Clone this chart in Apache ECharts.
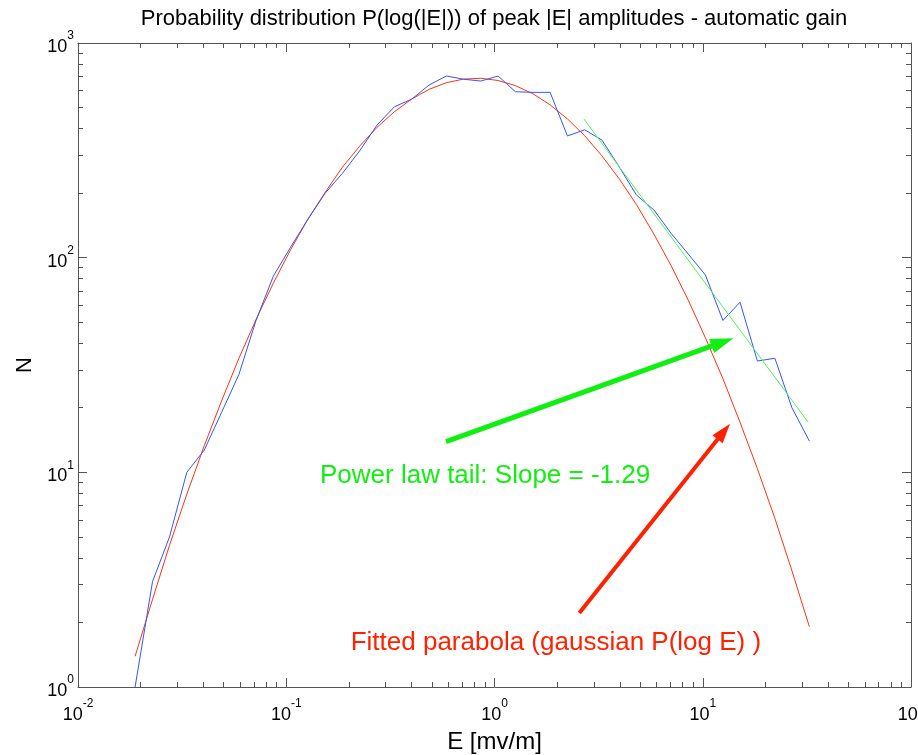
<!DOCTYPE html>
<html><head><meta charset="utf-8">
<script src="https://cdn.jsdelivr.net/npm/echarts@6/dist/echarts.min.js"></script>
<style>html,body{margin:0;padding:0;background:#fff}#c{width:918px;height:755px}</style>
</head><body><div id="c"></div>
<script>
// Bin centres E [mV/m] (log-spaced histogram bins)
const E = [0.0188, 0.0228, 0.0275, 0.0333, 0.0404, 0.0489, 0.0592, 0.0716, 0.0867, 0.105,
           0.127, 0.154, 0.186, 0.226, 0.273, 0.331, 0.400, 0.485, 0.587, 0.710,
           0.860, 1.04, 1.26, 1.53, 1.85, 2.24, 2.71, 3.28, 3.97, 4.80,
           5.82, 7.04, 8.52, 10.3, 12.5, 15.1, 18.3, 22.2, 26.8, 32.5];
// Observed counts N (blue)
const counts = [1.0, 3.1, 5.0, 10.0, 12.7, 19.0, 28.5, 51, 82, 112,
                151, 200, 247, 316, 415, 505, 547, 637, 702, 678,
                665, 702, 593, 589, 589, 369, 394, 353, 265, 196,
                167, 130, 104, 83, 51, 62, 33, 34, 20, 14];
// Fitted parabola (red) at the same E
const parabolaFit = [1.39, 2.56, 4.57, 7.91, 13.3, 21.5, 33.9, 51.5, 76.1, 109,
                     151, 202, 264, 332, 405, 479, 548, 608, 653, 679,
                     685, 669, 633, 580, 515, 443, 370, 298, 233, 177,
                     129, 92.0, 63.4, 42.3, 27.3, 17.1, 10.4, 6.10, 3.48, 1.91];
// Power-law tail (green)
const powerLawE = [2.69, 32.1];
const powerLawN = [442, 17.1];
// Axis ticks
const xMajorTicks = [0.01, 0.1, 1, 10, 100];
const yMajorTicks = [1, 10, 100, 1000];
const xDecades = [-2, -1, 0, 1];
const yDecades = [0, 1, 2];
// Annotations (data coordinates)
const greenArrow = [[0.585, 13.9], [12.44, 40.4]];
const redArrow = [[2.554, 2.21], [12.62, 15.5]];
const greenLabelAt = [0.1452, 9.62];
const redLabelAt = [0.2039, 1.614];
const greenLabel = 'Power law tail: Slope = -1.29';
const redLabel = 'Fitted parabola (gaussian P(log E) )';
const titleText = 'Probability distribution P(log(|E|)) of peak |E| amplitudes - automatic gain';

const FONT = '"Liberation Sans", Arial, Helvetica, sans-serif';
const AXC = '#555555';

function minors(decades) {
  const out = [];
  decades.forEach(d => { for (let k = 2; k <= 9; k++) out.push(+(k * Math.pow(10, d)).toPrecision(3)); });
  return out;
}
const xMinor = minors(xDecades);
const yMinor = minors(yDecades);

const labelFmt = v => '{b|10}{s|' + Math.round(Math.log10(v)) + '}';
const rich = {
  b: {fontSize: 18, color: '#000', fontFamily: FONT, padding: [8, 0, 0, 0]},
  s: {fontSize: 12, color: '#000', fontFamily: FONT, verticalAlign: 'top'}
};

function xAx(pos, ticks, len, opts) {
  return Object.assign({
    type: 'log', logBase: 10, min: 0.01, max: 100, position: pos, offset: 0,
    axisLine: {show: false}, splitLine: {show: false}, axisLabel: {show: false},
    axisTick: {show: true, inside: true, length: len, customValues: ticks, lineStyle: {color: AXC, width: 1}}
  }, opts || {});
}
function yAx(pos, ticks, len, opts) {
  return Object.assign({
    type: 'log', logBase: 10, min: 1, max: 1000, position: pos, offset: 0,
    axisLine: {show: false}, splitLine: {show: false}, axisLabel: {show: false},
    axisTick: {show: true, inside: true, length: len, customValues: ticks, lineStyle: {color: AXC, width: 1}}
  }, opts || {});
}

const chart = echarts.init(document.getElementById('c'), null, {renderer: 'canvas'});
chart.setOption({
  animation: false,
  backgroundColor: '#fff',
  textStyle: {fontFamily: FONT},
  title: {
    text: titleText, left: 494, top: 8, padding: 0, textAlign: 'center',
    textStyle: {fontSize: 22, fontWeight: 'normal', color: '#000', fontFamily: FONT}
  },
  grid: {left: 78, top: 43, width: 833, height: 644, containLabel: false, outerBoundsMode: 'none'},
  xAxis: [
    xAx('bottom', xMajorTicks, 9, {
      axisLine: {show: true, lineStyle: {color: AXC, width: 1}},
      axisLabel: {show: true, customValues: xMajorTicks, formatter: labelFmt, rich: rich, margin: 11},
      name: 'E [mv/m]', nameLocation: 'middle', nameGap: 43,
      nameTextStyle: {fontSize: 24, color: '#000', fontFamily: FONT}
    }),
    xAx('bottom', xMinor, 5),
    xAx('top', xMajorTicks, 9, {axisLine: {show: true, lineStyle: {color: AXC, width: 1}}}),
    xAx('top', xMinor, 5)
  ],
  yAxis: [
    yAx('left', yMajorTicks, 9, {
      axisLine: {show: true, lineStyle: {color: AXC, width: 1}},
      axisLabel: {show: true, customValues: yMajorTicks, formatter: labelFmt, rich: rich, margin: 4},
      name: 'N', nameLocation: 'middle', nameGap: 36,
      nameTextStyle: {fontSize: 22, color: '#000', fontFamily: FONT}
    }),
    yAx('left', yMinor, 5),
    yAx('right', yMajorTicks, 9, {axisLine: {show: true, lineStyle: {color: AXC, width: 1}}}),
    yAx('right', yMinor, 5)
  ],
  series: [
    {
      type: 'line', name: 'fit', xAxisIndex: 0, yAxisIndex: 0,
      data: E.map((e, i) => [e, parabolaFit[i]]),
      symbol: 'none', lineStyle: {color: '#ff3311', width: 1}, itemStyle: {color: '#ff3311'}, z: 2,
      markLine: {
        silent: true, animation: false, symbol: ['none', 'triangle'],
        label: {show: false}, emphasis: {disabled: true},
        lineStyle: {color: '#ff2200', width: 4, type: 'solid'},
        data: [[{coord: redArrow[0], symbol: 'none'}, {coord: redArrow[1], symbol: 'triangle', symbolSize: [13, 20]}]]
      },
      markPoint: {
        silent: true, animation: false, symbol: 'circle', symbolSize: 0,
        itemStyle: {color: 'rgba(0,0,0,0)'},
        label: {show: true, position: 'right', distance: 0, formatter: redLabel, color: '#ff2200', fontSize: 26, fontFamily: FONT},
        data: [{coord: redLabelAt}]
      }
    },
    {
      type: 'line', name: 'counts', xAxisIndex: 0, yAxisIndex: 0,
      data: E.map((e, i) => [e, counts[i]]),
      symbol: 'none', lineStyle: {color: '#3355ff', width: 1}, itemStyle: {color: '#3355ff'}, z: 3
    },
    {
      type: 'line', name: 'powerlaw', xAxisIndex: 0, yAxisIndex: 0,
      data: powerLawE.map((e, i) => [e, powerLawN[i]]),
      symbol: 'none', lineStyle: {color: '#55ee55', width: 1}, itemStyle: {color: '#55ee55'}, z: 4,
      markLine: {
        silent: true, animation: false, symbol: ['none', 'triangle'],
        label: {show: false}, emphasis: {disabled: true},
        lineStyle: {color: '#11ee11', width: 5, type: 'solid'},
        data: [[{coord: greenArrow[0], symbol: 'none'}, {coord: greenArrow[1], symbol: 'triangle', symbolSize: [15, 23]}]]
      },
      markPoint: {
        silent: true, animation: false, symbol: 'circle', symbolSize: 0,
        itemStyle: {color: 'rgba(0,0,0,0)'},
        label: {show: true, position: 'right', distance: 0, formatter: greenLabel, color: '#11ee11', fontSize: 26, fontFamily: FONT},
        data: [{coord: greenLabelAt}]
      }
    }
  ]
});
</script>
</body></html>
